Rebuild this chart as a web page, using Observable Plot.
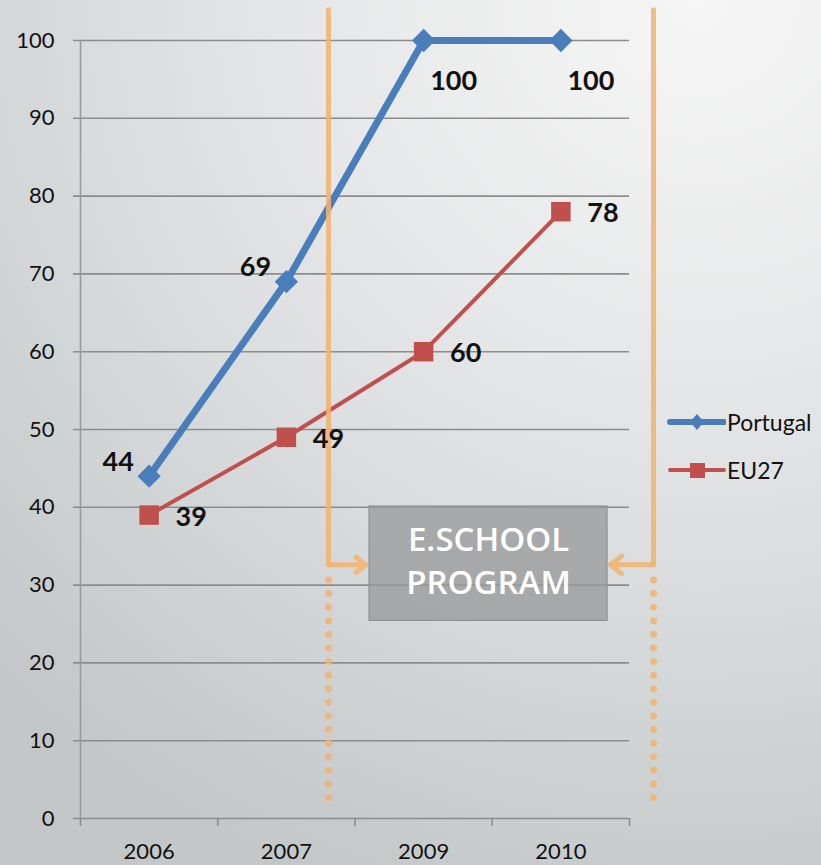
<!DOCTYPE html>
<html>
<head>
<meta charset="utf-8">
<script src="https://cdn.jsdelivr.net/npm/d3@7"></script>
<script src="https://cdn.jsdelivr.net/npm/@observablehq/plot@0.6"></script>
<style>
  html, body { margin: 0; padding: 0; }
  body {
    width: 821px; height: 865px; overflow: hidden; position: relative;
    background: radial-gradient(ellipse 120% 110% at 85% 0%, #f6f6f6 0%, #e6e7e8 40%, #d2d5d6 75%, #c3c7c8 100%);
    font-family: Lato, "Open Sans", sans-serif;
  }
  #chart { position: absolute; left: 0; top: 0; }
  #legend { position: absolute; left: 664px; top: 407px; font-size: 23px; color: #111; font-family: Lato, sans-serif; }
  .item { display: flex; align-items: center; height: 30px; margin-bottom: 18px; }
  .item svg { margin-right: 1px; }
</style>
</head>
<body>
<div id="chart"></div>
<div id="legend"></div>
<script>
// ---- data ----
const years = ["2006", "2007", "2009", "2010"];
const portugal = [44, 69, 100, 100];
const eu27 = [39, 49, 60, 78];
const yTicks = [0, 10, 20, 30, 40, 50, 60, 70, 80, 90, 100];
const seriesNames = ["Portugal", "EU27"];
const annotationText = "E.SCHOOL\nPROGRAM";

// ---- annotation anchors (category-index / value space) ----
const leftBracketX = 1.307, rightBracketX = 3.675;
const bracketTop = 103.9, bracketMid = 32.6, dotsTop = 30.6, dotsBottom = 1.0;
const leftArrowTip = 1.58, rightArrowTip = 3.36;
const box = {x1: 1.606, x2: 3.34, y1: 25.4, y2: 40.1};
const boxTextPos = {x: 2.473, y: 33.4};

const blue = "#4a7ebb", red = "#c0504d", orange = "#f0b472";

const pt = years.map((y, i) => ({i, year: y, value: portugal[i]}));
const eu = years.map((y, i) => ({i, year: y, value: eu27[i]}));

const plot = Plot.plot({
  width: 821, height: 865,
  marginLeft: 80, marginRight: 192, marginTop: 40, marginBottom: 47,
  style: {background: "transparent", fontFamily: "Lato, 'Open Sans', sans-serif", overflow: "visible"},
  x: {type: "linear", domain: [-0.5, 3.5], axis: null},
  y: {type: "linear", domain: [0, 100], axis: null},
  marks: [
    // gridlines + left ticks
    Plot.ruleY(yTicks, {x1: -0.5, x2: 3.5, stroke: "#8c8c8c", strokeWidth: 1.6, insetLeft: -7}),
    // y axis line
    Plot.ruleX([-0.5], {y1: 0, y2: 100, stroke: "#9a9a9a", strokeWidth: 1.6}),
    // x tick marks at boundaries
    Plot.axisX([-0.5, 0.5, 1.5, 2.5, 3.5], {tickSize: 8, tickFormat: () => "", stroke: "#8c8c8c", strokeWidth: 1.6}),
    Plot.axisY(yTicks, {tickSize: 0, tickPadding: 26, fontSize: 22, fill: "#111", tickFormat: d => d}),
    Plot.axisX([0, 1, 2, 3], {tickSize: 0, tickPadding: 25, fontSize: 22, fill: "#111", tickFormat: i => years[i]}),
    // text box
    Plot.rect([box], {x1: "x1", x2: "x2", y1: "y1", y2: "y2", fill: "#999a9b", fillOpacity: 0.78, stroke: "#8e8f90", strokeWidth: 1.2}),
    Plot.text([boxTextPos], {x: "x", y: "y", text: () => annotationText, fill: "white", fontSize: 33, fontWeight: 600, fontFamily: "'Open Sans', sans-serif", lineHeight: 1.3, letterSpacing: 1.5}),
    // lines
    Plot.line(pt, {x: "i", y: "value", stroke: blue, strokeWidth: 7}),
    Plot.line(eu, {x: "i", y: "value", stroke: red, strokeWidth: 4}),
    Plot.dot(pt, {x: "i", y: "value", symbol: "diamond2", r: 10.5, fill: blue}),
    Plot.dot(eu, {x: "i", y: "value", symbol: "square", r: 11, fill: red}),
    // orange bracket annotation
    Plot.ruleX([leftBracketX, rightBracketX], {y1: bracketTop, y2: bracketMid, stroke: orange, strokeWidth: 5, strokeOpacity: 0.88, strokeLinecap: "round"}),
    Plot.ruleX([leftBracketX, rightBracketX], {y1: dotsTop, y2: dotsBottom, stroke: orange, strokeWidth: 7, strokeOpacity: 0.88, strokeLinecap: "round", strokeDasharray: "0 13.6"}),
    Plot.arrow([{x1: leftBracketX, x2: leftArrowTip}, {x1: rightBracketX, x2: rightArrowTip}], {x1: "x1", x2: "x2", y1: bracketMid, y2: bracketMid, stroke: orange, strokeWidth: 5, strokeOpacity: 0.88, headLength: 24, headAngle: 75}),
    // value labels
    Plot.text(pt.filter(d => d.i < 2), {x: "i", y: "value", text: "value", dx: -31, dy: -14, fontSize: 27, fontWeight: "bold", fill: "#111"}),
    Plot.text(pt.filter(d => d.i >= 2), {x: "i", y: "value", text: "value", dx: 30, dy: 41, fontSize: 27, fontWeight: "bold", fill: "#111"}),
    Plot.text(eu, {x: "i", y: "value", text: "value", dx: 42, dy: 2, fontSize: 27, fontWeight: "bold", fill: "#111"})
  ]
});
document.getElementById("chart").appendChild(plot);

// legend
const legend = document.getElementById("legend");
const legendSvg = [
  `<svg width="62" height="20"><line x1="6" y1="10" x2="60" y2="10" stroke="${blue}" stroke-width="6" stroke-linecap="round"/><path d="M33 2 L40 10 L33 18 L26 10 Z" fill="${blue}"/></svg>`,
  `<svg width="62" height="20"><line x1="6" y1="10" x2="60" y2="10" stroke="${red}" stroke-width="4" stroke-linecap="round"/><rect x="26" y="3" width="15" height="15" fill="${red}"/></svg>`
];
seriesNames.forEach((n, k) => {
  const d = document.createElement("div");
  d.className = "item";
  d.innerHTML = legendSvg[k] + `<span>${n}</span>`;
  legend.appendChild(d);
});
</script>
</body>
</html>
